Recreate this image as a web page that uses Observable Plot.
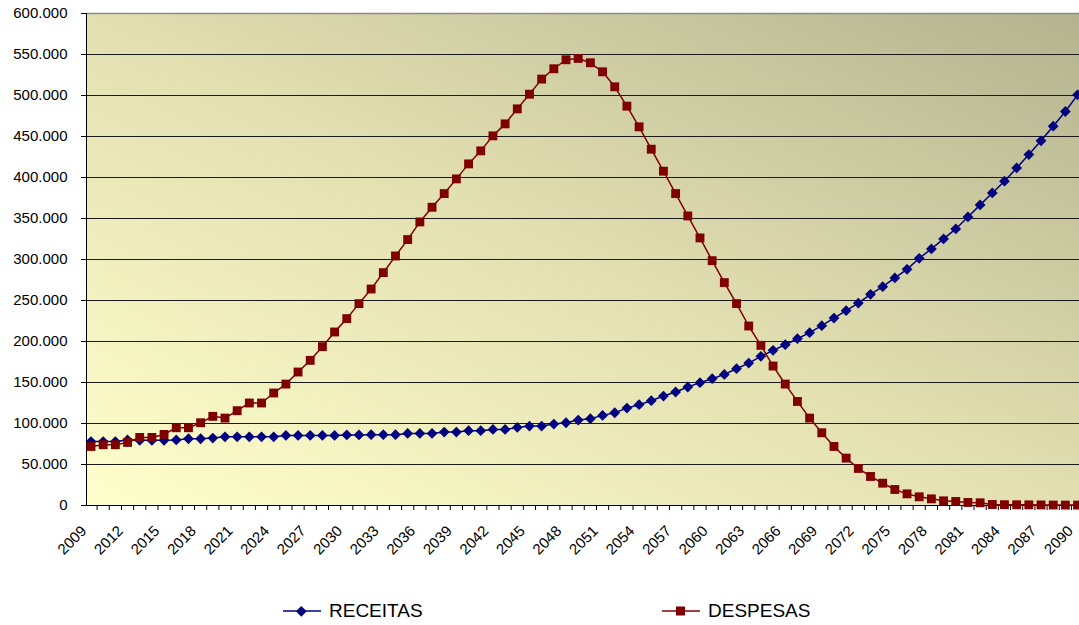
<!DOCTYPE html>
<html><head><meta charset="utf-8">
<script src="https://cdn.jsdelivr.net/npm/d3@7"></script>
<script src="https://cdn.jsdelivr.net/npm/@observablehq/plot@0.6"></script>
<style>
body{margin:0;background:#fff;font-family:Arial,"Liberation Sans",sans-serif;}
#wrap{position:relative;width:1079px;height:625px;overflow:hidden;}
#legend{position:absolute;top:600px;left:0;width:1079px;height:22px;font-size:19px;color:#000;}
.item{position:absolute;top:0;height:22px;display:flex;align-items:center;}
.item svg{display:block;margin-right:8px;}
</style></head><body><div id="wrap"><div id="chart"></div><div id="legend"></div></div>
<script>
const years = [2009,2010,2011,2012,2013,2014,2015,2016,2017,2018,2019,2020,2021,2022,2023,2024,2025,2026,2027,2028,
  2029,2030,2031,2032,2033,2034,2035,2036,2037,2038,2039,2040,2041,2042,2043,2044,2045,2046,2047,2048,
  2049,2050,2051,2052,2053,2054,2055,2056,2057,2058,2059,2060,2061,2062,2063,2064,2065,2066,2067,2068,
  2069,2070,2071,2072,2073,2074,2075,2076,2077,2078,2079,2080,2081,2082,2083,2084,2085,2086,2087,2088,
  2089,2090];
const receitas = [78000,78000,78000,80000,79500,79500,79500,80000,81400,81400,
  82200,83800,83800,83800,83800,83800,85500,85500,85500,85500,
  85500,86000,86000,86300,86300,86300,87900,87900,87900,89500,
  89500,91200,91200,92800,92800,95200,96900,96900,99300,100900,
  104200,105800,109900,113100,118800,122900,127800,133500,138400,144500,
  149800,154600,159900,166800,173700,181900,189200,196100,203400,210800,
  219300,228600,237600,246900,257500,266900,277500,288000,301500,312900,
  325100,337300,351900,366600,381200,395500,411700,428000,444700,462600,
  480500,500800];
const despesas = [72000,74100,74100,76900,83000,83000,86700,94800,94800,100900,
  108700,106600,115600,125000,125000,137200,148100,162800,177000,193700,
  211600,227900,246200,264000,284000,304300,324300,345800,363700,380400,
  398300,416600,432500,450800,465400,483700,501600,520000,532600,543600,
  545200,539900,528900,510600,487000,461800,434500,407700,380400,353100,
  326300,298600,271800,246200,218900,195300,170100,148100,126900,106600,
  88700,72000,57800,45200,35400,27200,19500,14200,10600,8100,
  5700,4900,3700,3300,1200,1000,900,800,700,600,
  500,500];
const yTicks = [0,50000,100000,150000,200000,250000,300000,350000,400000,450000,500000,550000,600000];
const labelYears = [2009,2012,2015,2018,2021,2024,2027,2030,2033,2036,2039,2042,2045,2048,2051,2054,2057,2060,2063,2066,2069,2072,2075,2078,2081,2084,2087,2090];
const seriesNames = ["RECEITAS","DESPESAS"];
const seriesColors = ["#000080","#800000"];

const fmt = d3.formatLocale({decimal:",",thousands:".",grouping:[3],currency:["",""]}).format(",");
const rec = years.map((year,i)=>({year,value:receitas[i]}));
const des = years.map((year,i)=>({year,value:despesas[i]}));
const boundaries = years.map(y=>y-0.5).filter(v=>v>2008.63);
const font = 'Arial, "Liberation Sans", sans-serif';

const chart = Plot.plot({
  width:1079, height:590,
  marginLeft:86, marginRight:0, marginTop:13, marginBottom:85,
  style:{fontFamily:font, fontSize:"15px", color:"#000", background:"transparent", overflow:"visible"},
  x:{type:"linear", domain:[2008.63, 2090.16], axis:null},
  y:{domain:[0,600000], axis:null},
  marks:[
    Plot.frame({fill:"url(#bgGrad)", stroke:null}),
    Plot.gridY(yTicks.filter(v=>v>0 && v<600000), {stroke:"#1a1a1a", strokeOpacity:1, strokeWidth:1}),
    Plot.ruleY(yTicks.filter(v=>v===600000), {stroke:"#8c8c8c", strokeWidth:1.5}),
    Plot.axisY({ticks:yTicks, tickSize:5, tickPadding:14, tickFormat:fmt, fontSize:15, stroke:"#000", fill:"#000", label:null}),
    Plot.axisX({ticks:boundaries, tickSize:5, tickFormat:()=>"", stroke:"#000", label:null}),
    Plot.text(labelYears, {x:d=>d, text:d=>String(d), frameAnchor:"bottom", rotate:-45, textAnchor:"end", lineAnchor:"middle", dx:-7, dy:23, fontSize:15, fill:"#000"}),
    Plot.frame({anchor:"left", stroke:"#000"}),
    Plot.ruleY(yTicks.filter(v=>v===0), {stroke:"#000"}),
    Plot.line(rec,{x:"year",y:"value",stroke:seriesColors[0],strokeWidth:1.5}),
    Plot.dot(rec,{x:"year",y:"value",symbol:"square",rotate:45,r:4.3,fill:seriesColors[0],stroke:null}),
    Plot.line(des,{x:"year",y:"value",stroke:seriesColors[1],strokeWidth:1.5}),
    Plot.dot(des,{x:"year",y:"value",symbol:"square",r:5,fill:seriesColors[1],stroke:null})
  ]
});
const svgNS = "http://www.w3.org/2000/svg";
const defs = document.createElementNS(svgNS,"defs");
defs.innerHTML = '<linearGradient id="bgGrad" x1="0" y1="1" x2="1" y2="0">'+
  '<stop offset="0" stop-color="#ffffcc"/><stop offset="0.5" stop-color="#e2dfb1"/><stop offset="1" stop-color="#b3b38f"/></linearGradient>';
chart.insertBefore(defs, chart.firstChild);
document.getElementById("chart").appendChild(chart);

// legend
const legend = document.getElementById("legend");
const lefts = [283, 662];
seriesNames.forEach((name,i)=>{
  const div = document.createElement("div");
  div.className = "item";
  div.style.left = lefts[i]+"px";
  const c = seriesColors[i];
  const marker = i===0
    ? `<rect x="14.5" y="5.5" width="7.6" height="7.6" fill="${c}" transform="rotate(45 18.3 9.3)"/>`
    : `<rect x="14" y="4.5" width="9" height="9" fill="${c}"/>`;
  div.innerHTML = `<svg width="38" height="18" viewBox="0 0 38 18"><line x1="0" x2="38" y1="9" y2="9" stroke="${c}" stroke-width="1.5"/>${marker}</svg><span>${name}</span>`;
  legend.appendChild(div);
});
</script></body></html>
